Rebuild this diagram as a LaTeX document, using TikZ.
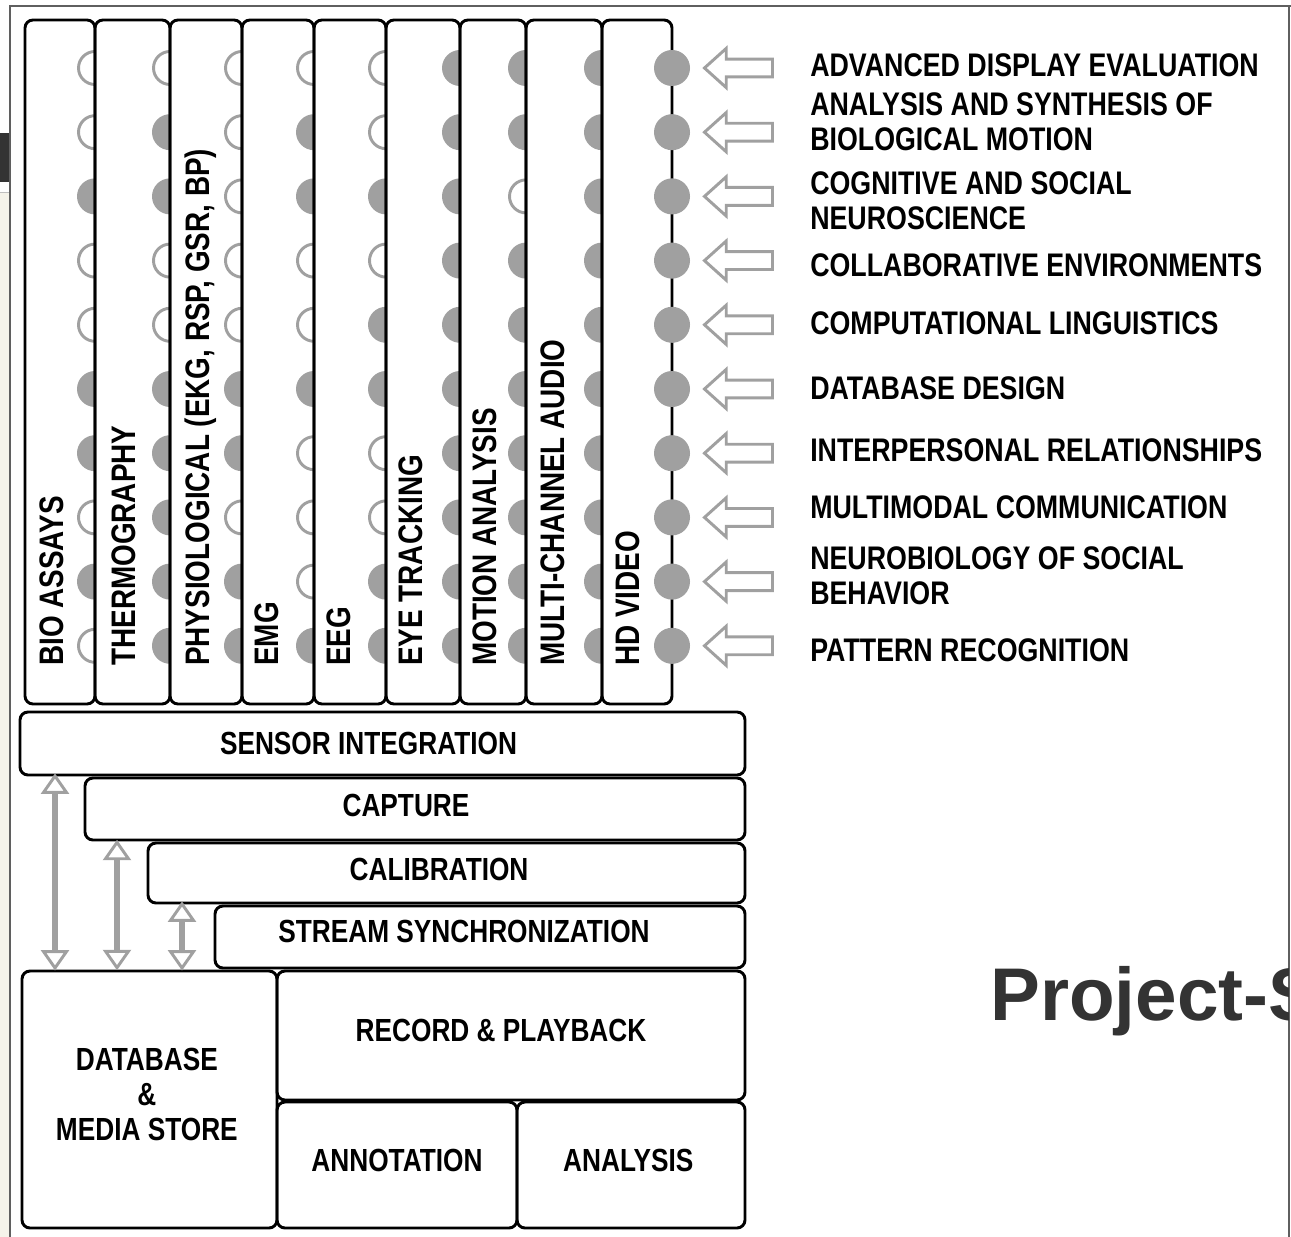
\documentclass[tikz,border=0pt]{standalone}
\usepackage{fontspec}
\usetikzlibrary{positioning, fit, shapes.arrows}
\newfontfamily\diagfont[FakeStretch=0.82]{Liberation Sans}
\newfontfamily\titlefont{Liberation Sans}
\definecolor{dotgray}{RGB}{160,160,160}
\definecolor{framegray}{RGB}{95,95,95}
\definecolor{panelcream}{RGB}{245,243,234}
\definecolor{titlegray}{RGB}{51,51,51}

\tikzset{
  colbox/.style={draw, line width=2.2pt, rounded corners=6pt, inner sep=0pt},
  layerbox/.style={draw, line width=2.2pt, rounded corners=6pt, inner sep=0pt},
  layertext/.style={inner sep=0pt, text height=17.2pt, text depth=0pt,
    font=\diagfont\bfseries\fontsize{24}{26.25}\selectfont},
  sensorlabel/.style={rotate=90, anchor=base west, inner sep=0pt,
    font=\diagfont\bfseries\fontsize{25.5}{27}\selectfont},
  topic/.style={anchor=west, inner sep=0pt, align=left,
    font=\diagfont\bfseries\fontsize{24.5}{26.25}\selectfont},
  hub/.style={circle, fill=dotgray, minimum size=27pt, inner sep=0pt},
  sourcearrow/.style={single arrow, shape border rotate=180, draw=dotgray, line width=2.2pt, fill=white,
    minimum height=51pt, inner xsep=0pt, inner ysep=5.6pt, single arrow head extend=8pt,
    single arrow tip angle=84},
  linkarrow/.style={double arrow, shape border rotate=90, draw=dotgray, line width=2.2pt, fill=white,
    inner xsep=0pt, inner ysep=4.5pt, double arrow head extend=7.5pt, double arrow tip angle=70}
}

\begin{document}
\begin{tikzpicture}[x=0.75pt,y=0.75pt,yscale=-1,xscale=1]
\useasboundingbox (0,0) rectangle (1291,1237);

%Shape: window frame
\fill[white] (0,0) rectangle (1291,1237);
\fill[panelcream] (0,193) rectangle (10,1237);
\fill[titlegray] (0,133) rectangle (10,182);
\draw[black!25, line width=0.75pt] (0,193) -- (10,193);
\draw[framegray, line width=1.1pt] (10,1237) -- (10,6) -- (1291,6);
\draw[framegray, line width=1.1pt] (1289,6) -- (1289,1237);

%Shape: half dots on the column edges, 1 = filled, 0 = open
\foreach \xe/\pat in {95/{0,0,1,0,0,1,1,0,1,0}, 170/{0,1,1,0,0,1,1,1,1,1},
    242/{0,0,0,0,0,1,1,0,1,1}, 314/{0,1,1,0,0,1,0,0,0,1}, 386/{0,0,1,0,1,1,0,0,1,1},
    460/{1,1,1,1,1,1,1,1,1,1}, 526/{1,1,0,1,1,1,1,1,1,1}, 602/{1,1,1,1,1,1,1,1,1,1}}{
  \foreach \f [count=\r from 0] in \pat {
    \pgfmathsetmacro{\yr}{68+64.2*\r}
    \ifnum\f=1
      \fill[dotgray] (\xe,\yr) ++(0,-18) arc[start angle=270, end angle=90, radius=18] -- cycle;
    \else
      \draw[dotgray, line width=2.2pt] (\xe,\yr) ++(0,-16.5) arc[start angle=270, end angle=90, radius=16.5];
    \fi
  }
}

%Shape: sensor columns
\node[colbox, fit={(25,20) (95,704)}] (bio) {};
\node[colbox, fit={(95,20) (170,704)}] (thermo) {};
\node[colbox, fit={(170,20) (242,704)}] (physio) {};
\node[colbox, fit={(242,20) (314,704)}] (emg) {};
\node[colbox, fit={(314,20) (386,704)}] (eeg) {};
\node[colbox, fit={(386,20) (460,704)}] (eye) {};
\node[colbox, fit={(460,20) (526,704)}] (motion) {};
\node[colbox, fit={(526,20) (602,704)}] (audio) {};
\node[colbox, fit={(602,20) (672,704)}] (video) {};

% Text Node
\node[sensorlabel] (biolab) at (63,666) {BIO ASSAYS};
% Text Node
\node[sensorlabel] (thermolab) at (135,666) {THERMOGRAPHY};
% Text Node
\node[sensorlabel] (physiolab) at (209,666) {PHYSIOLOGICAL (EKG, RSP, GSR, BP)};
% Text Node
\node[sensorlabel] (emglab) at (278,666) {EMG};
% Text Node
\node[sensorlabel] (eeglab) at (350,666) {EEG};
% Text Node
\node[sensorlabel] (eyelab) at (422,666) {EYE TRACKING};
% Text Node
\node[sensorlabel] (motionlab) at (496,666) {MOTION ANALYSIS};
% Text Node
\node[sensorlabel] (audiolab) at (564,666) {MULTI-CHANNEL AUDIO};
% Text Node
\node[sensorlabel] (videolab) at (639,666) {HD VIDEO};

%Shape: full dots and incoming arrows
\foreach \r in {0,...,9}{
  \pgfmathsetmacro{\yr}{68+64.2*\r}
  \node[hub] (hub\r) at (672,\yr) {};
  \node[sourcearrow, right=9pt of hub\r, anchor=tip] (arr\r) {};
}

% Text Node
\node[topic] (topic0) at (810,65) {ADVANCED DISPLAY EVALUATION};
% Text Node
\node[topic] (topic1) at (810,122) {ANALYSIS AND SYNTHESIS OF\\BIOLOGICAL MOTION};
% Text Node
\node[topic] (topic2) at (810,201) {COGNITIVE AND SOCIAL\\NEUROSCIENCE};
% Text Node
\node[topic] (topic3) at (810,265) {COLLABORATIVE ENVIRONMENTS};
% Text Node
\node[topic] (topic4) at (810,323) {COMPUTATIONAL LINGUISTICS};
% Text Node
\node[topic] (topic5) at (810,388) {DATABASE DESIGN};
% Text Node
\node[topic] (topic6) at (810,450) {INTERPERSONAL RELATIONSHIPS};
% Text Node
\node[topic] (topic7) at (810,507) {MULTIMODAL COMMUNICATION};
% Text Node
\node[topic] (topic8) at (810,576) {NEUROBIOLOGY OF SOCIAL\\BEHAVIOR};
% Text Node
\node[topic] (topic9) at (810,650) {PATTERN RECOGNITION};

%Shape: processing layers
\node[layerbox, fit={(20,712) (745,775)}] (sensor) {};
\node[layerbox, fit={(85,778) (745,840)}] (capture) {};
\node[layerbox, fit={(148,843) (745,903)}] (calib) {};
\node[layerbox, fit={(215,906) (745,968)}] (stream) {};
\node[layerbox, fit={(22,971) (277,1228)}] (store) {};
\node[layerbox, fit={(277,971) (745,1100)}] (record) {};
\node[layerbox, fit={(277,1102) (517,1228)}] (annot) {};
\node[layerbox, fit={(517,1102) (745,1228)}] (analysis) {};

% Text Node
\node[layertext] (sensortext) at ([xshift=-10.5pt]sensor.center) {SENSOR INTEGRATION};
% Text Node
\node[layertext] (capturetext) at ([xshift=-6.75pt, yshift=-3pt]capture.center) {CAPTURE};
% Text Node
\node[layertext] (calibtext) at ([xshift=-5.6pt, yshift=-3pt]calib.center) {CALIBRATION};
% Text Node
\node[layertext] (streamtext) at ([xshift=-12pt, yshift=-4.5pt]stream.center) {STREAM SYNCHRONIZATION};
% Text Node
\node[layertext, text height=, text depth=, align=center] (storetext) at ([xshift=-2pt, yshift=-3.4pt]store.center) {DATABASE\\\&\\MEDIA STORE};
% Text Node
\node[layertext] (recordtext) at ([xshift=-7.5pt, yshift=-4pt]record.center) {RECORD \& PLAYBACK};
% Text Node
\node[layertext] (annottext) at ([yshift=-3.75pt]annot.center) {ANNOTATION};
% Text Node
\node[layertext] (analysistext) at ([xshift=-2pt, yshift=-3.75pt]analysis.center) {ANALYSIS};

%Shape: links to the store
\node[linkarrow, minimum height=144pt] (link1) at (55,872) {};
\node[linkarrow, minimum height=94pt] (link2) at (117,905) {};
\node[linkarrow, minimum height=48pt] (link3) at (182,936) {};

% Text Node
\begin{scope}
\clip (0,0) rectangle (1288,1237);
\node[anchor=base west, inner sep=0pt, text=titlegray, font=\titlefont\bfseries\fontsize{56}{60}\selectfont] (title) at (990,1020) {Project-S};
\end{scope}

\end{tikzpicture}
\end{document}
